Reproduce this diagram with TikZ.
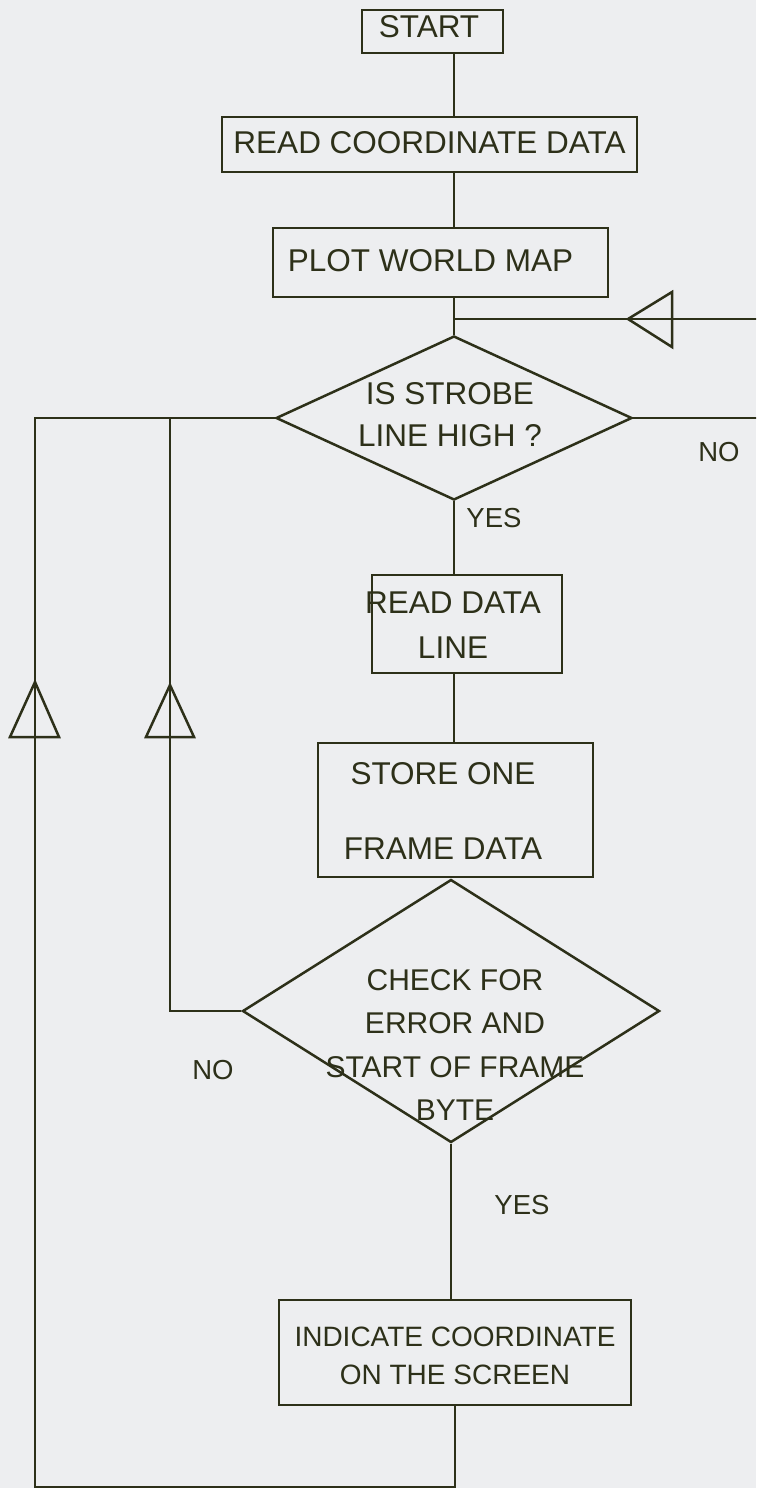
\documentclass[tikz,border=0pt]{standalone}
\usepackage{fontspec}
\setmainfont{Liberation Sans}
\usetikzlibrary{shapes.geometric}
\definecolor{ink}{RGB}{45,48,25}
\definecolor{paper}{RGB}{237,238,240}
\tikzset{
  ln/.style={draw=ink, line width=2.5pt, line join=miter},
  box/.style={ln, rectangle, inner sep=0pt},
  dia/.style={ln, diamond, inner sep=0pt},
  txt/.style={text=ink, inner sep=0pt, align=center},
  lbl/.style={text=ink, inner sep=0pt, font=\fontsize{27.5}{30}\selectfont},
}
\newcommand{\fs}[1]{\fontsize{31.5}{#1}\selectfont}
\begin{document}
\begin{tikzpicture}[x=1pt,y=-1pt]
\fill[paper] (0,0) rectangle (756,1488);
\useasboundingbox (0,0) rectangle (756,1488);
\clip (0,0) rectangle (756,1488);
% helper coordinates
\coordinate (axis) at (454,0);
\coordinate (rx) at (768,0);
\coordinate (ox) at (35,0);
\coordinate (ix) at (170,0);
\coordinate (by) at (0,1487.5);
% boxes
\node[box, minimum width=141pt, minimum height=43pt] (start) at (432.5,31.5) {};
\node[txt, font=\fs{36}] (startT) at (429,27) {START};
\node[box, minimum width=415pt, minimum height=55pt] (rcd) at (429.5,144.5) {};
\node[txt, font=\fs{36}] (rcdT) at (429.5,142.5) {READ COORDINATE DATA};
\node[box, minimum width=335pt, minimum height=69pt] (plot) at (440.5,262.5) {};
\node[txt, font=\fs{36}] (plotT) at (430.5,261) {PLOT WORLD MAP};
\node[dia, minimum width=356pt, minimum height=164pt] (d1) at (454,418) {};
\node[txt, font=\fs{42}] (d1T) at (450,415) {IS STROBE\\LINE HIGH ?};
\node[box, minimum width=190pt, minimum height=98pt] (rdl) at (467,624) {};
\node[txt, font=\fs{45}] (rdlT) at (453,625.5) {READ DATA\\LINE};
\node[box, minimum width=275pt, minimum height=134pt] (store) at (455.5,810) {};
\node[txt, font=\fs{75}] (storeT) at (443,810.5) {STORE ONE\\FRAME DATA};
\node[dia, minimum width=417pt, minimum height=263pt] (d2) at (451,1011) {};
\node[txt, font=\fontsize{30}{43.3}\selectfont] (d2T) at (455,1045) {CHECK FOR\\ERROR AND\\START OF FRAME\\BYTE};
\node[box, minimum width=352pt, minimum height=105pt] (ind) at (455,1352.5) {};
\node[txt, font=\fontsize{28}{38}\selectfont] (indT) at (455,1356) {INDICATE COORDINATE\\ON THE SCREEN};
% labels
\node[lbl] (no1) at (719,452) {NO};
\node[lbl] (yes1) at (494,518) {YES};
\node[lbl] (no2) at (213,1070) {NO};
\node[lbl] (yes2) at (522,1205) {YES};
% junction
\coordinate (j1) at (454,319);
% main flow
\draw[ln] (start.south -| axis) -- (rcd.north -| axis);
\draw[ln] (rcd.south -| axis) -- (plot.north -| axis);
\draw[ln] (plot.south -| d1.north) -- (d1.north);
\draw[ln] (d1.south) -- (rdl.north -| d1.south);
\draw[ln] (rdl.south -| d1.south) -- (store.north -| d1.south);
\draw[ln] (store.south -| d2.north) -- (d2.north);
\draw[ln] (d2.south) -- (ind.north -| d2.south);
% NO loop right
\draw[ln] (d1.east) -- (d1.east -| rx) -- (j1 -| rx) -- (j1);
\coordinate (t1) at (628,319);
\draw[ln] (t1) -- ++(44,-27) -- ++(0,55) -- cycle;
% NO loop inner left
\draw[ln] (d2.west) -- (d2.west -| ix) -- (d1.west -| ix);
\coordinate (t2) at (170,685);
\draw[ln] (t2) -- ++(-24,52) -- ++(48,0) -- cycle;
% outer loop
\draw[ln] (ind.south) -- (ind.south |- by) -- (ox |- by) -- (ox |- d1.west) -- (d1.west);
\coordinate (t3) at (35,682);
\draw[ln] (t3) -- ++(-25,55) -- ++(49,0) -- cycle;
\end{tikzpicture}
\end{document}
